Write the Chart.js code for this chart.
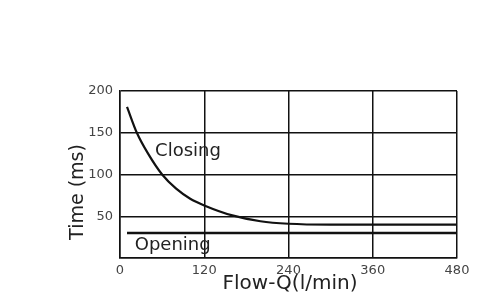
<!DOCTYPE html>
<html>
<head>
<meta charset="utf-8">
<script src="https://cdn.jsdelivr.net/npm/chart.js@4/dist/chart.umd.min.js"></script>
<style>
html,body{margin:0;padding:0;background:#fff;}
#wrap{width:500px;height:306px;position:relative;}
</style>
</head>
<body>
<div id="wrap"><canvas id="c"></canvas></div>
<script>
const closingFlow = [10, 24, 40, 60, 80, 100, 120, 160, 200, 240, 300, 360, 420, 480];
const closingTime = [181, 150, 125, 100, 83, 71, 63, 51, 44, 41, 40, 40, 40, 40];
const openingFlow = [10, 480];
const openingTime = [30, 30];
const xTicks = [0, 120, 240, 360, 480];
const yTicks = [50, 100, 150, 200];
const xTitle = 'Flow-Q(l/min)';
const yTitle = 'Time (ms)';
const seriesNames = ['Closing', 'Opening'];

const FONT = '"DejaVu Sans", sans-serif';

const labelPlugin = {
  id: 'labels',
  afterDraw(chart) {
    const ctx = chart.ctx;
    const xs = chart.scales.x, ys = chart.scales.y;
    ctx.save();
    ctx.fillStyle = '#222';
    ctx.font = '18px ' + FONT;
    ctx.textAlign = 'left';
    ctx.textBaseline = 'middle';
    ctx.fillText(seriesNames[0], xs.getPixelForValue(50), ys.getPixelForValue(128));
    ctx.fillText(seriesNames[1], xs.getPixelForValue(21), ys.getPixelForValue(15.5));
    ctx.font = '20px ' + FONT;
    ctx.textAlign = 'center';
    ctx.fillText(xTitle, 290, 284);
    ctx.font = '19px ' + FONT;
    ctx.translate(78, 192);
    ctx.rotate(-Math.PI / 2);
    ctx.fillText(yTitle, 0, 0);
    ctx.restore();
  }
};

new Chart(document.getElementById('c'), {
  type: 'line',
  data: {
    datasets: [
      {
        label: seriesNames[0],
        data: closingFlow.map((x, i) => ({x: x, y: closingTime[i]})),
        borderColor: '#111',
        borderWidth: 2.2,
        pointRadius: 0,
        cubicInterpolationMode: 'monotone',
        fill: false
      },
      {
        label: seriesNames[1],
        data: openingFlow.map((x, i) => ({x: x, y: openingTime[i]})),
        borderColor: '#111',
        borderWidth: 2.6,
        pointRadius: 0,
        fill: false
      }
    ]
  },
  options: {
    responsive: true,
    maintainAspectRatio: false,
    animation: false,
    events: [],
    layout: {padding: {top: 91, right: 43, left: 0, bottom: 0}},
    plugins: {legend: {display: false}, tooltip: {enabled: false}, title: {display: false}},
    scales: {
      x: {
        type: 'linear',
        min: 0, max: 480,
        afterBuildTicks(s) { s.ticks = xTicks.map(v => ({value: v})); },
        afterFit(s) { s.height = 48; },
        grid: {color: '#111', lineWidth: 1.5, drawTicks: false},
        border: {color: '#111', width: 1.5},
        ticks: {color: '#444', font: {family: FONT, size: 13}, padding: 5, maxRotation: 0}
      },
      y: {
        type: 'linear',
        min: 0, max: 200,
        afterBuildTicks(s) { s.ticks = [0].concat(yTicks).map(v => ({value: v})); },
        afterFit(s) { s.width = 120; },
        grid: {color: '#111', lineWidth: 1.5, drawTicks: false},
        border: {color: '#111', width: 1.5},
        ticks: {color: '#444', font: {family: FONT, size: 13}, padding: 7,
          callback: v => (v === 0 ? '' : String(v))}
      }
    }
  },
  plugins: [labelPlugin]
});
</script>
</body>
</html>
